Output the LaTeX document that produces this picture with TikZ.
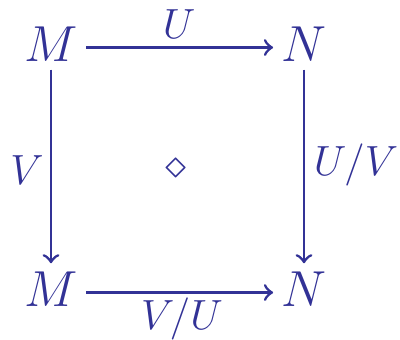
\documentclass[tikz,border=0pt]{standalone}
\definecolor{diagblue}{RGB}{50,50,150}

\begin{document}
\begin{tikzpicture}[x=0.01cm, y=-0.01cm,
    obj/.style={inner sep=2.2pt, text=diagblue, font=\fontsize{15.4}{18}\selectfont},
    lab/.style={inner sep=0pt, text=diagblue, font=\fontsize{12.8}{15}\selectfont},
    map/.style={->, line width=0.8pt, diagblue}]
  \useasboundingbox (0,0) rectangle (400,339);
  % the four corners of the square
  \node[obj] (M1) at (51,44) {$M$};
  \node[obj] (N1) at (304,44) {$N$};
  \node[obj] (M2) at (51,289) {$M$};
  \node[obj] (N2) at (304,289) {$N$};
  % the maps
  \draw[map] ([yshift=-1pt]M1.east) -- ([yshift=-1pt]N1.west);
  \draw[map] (M1) -- (M2);
  \draw[map] (N1) -- (N2);
  \draw[map] ([yshift=-1pt]M2.east) -- ([yshift=-1pt]N2.west);
  % labels on the maps, and the cell in the middle
  \node[lab] (u)  at (179,24)  {$U$};
  \node[lab] (v)  at (27,170)  {$V$};
  \node[lab] (uv) at (356,165) {$U/V$};
  \node[lab] (vu) at (182,319) {$V/U$};
  \node[lab] (cell) at (176,169) {$\diamond$};
\end{tikzpicture}
\end{document}
